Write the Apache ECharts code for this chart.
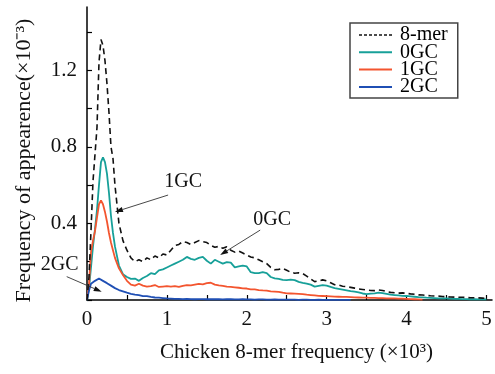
<!DOCTYPE html>
<html><head><meta charset="utf-8">
<script src="https://cdn.jsdelivr.net/npm/echarts@6/dist/echarts.min.js"></script>
<style>html,body{margin:0;padding:0;background:#fff}#c{width:495px;height:374px}</style>
</head><body><div id="c"></div>
<script>
// x values (×10^3)
var xs = [0,0.025,0.05,0.075,0.1,0.125,0.15,0.175,0.2,0.225,0.25,0.275,0.3,0.325,0.35,
0.4,0.45,0.5,0.55,0.6,0.65,0.7,0.75,0.8,0.85,0.9,0.95,1.0,
1.05,1.1,1.15,1.2,1.25,1.3,1.35,1.4,1.45,1.5,
1.55,1.6,1.65,1.7,1.75,1.8,1.85,1.9,1.95,2.0,
2.05,2.1,2.15,2.2,2.25,2.3,2.35,2.4,2.45,2.5,
2.55,2.6,2.65,2.7,2.75,2.8,2.85,2.9,2.95,3.0,
3.05,3.1,3.15,3.2,3.25,3.3,3.35,3.4,3.45,3.5,
3.55,3.6,3.65,3.7,3.75,3.8,3.85,3.9,3.95,4.0,
4.05,4.1,4.15,4.2,4.25,4.3,4.35,4.4,4.45,4.5,
4.55,4.6,4.65,4.7,4.75,4.8,4.85,4.9,4.95,5.0];

var mer8 = [0,0.12,0.36,0.62,0.76,0.90,1.24,1.36,1.33,1.25,1.13,0.98,0.80,0.74,0.60,
0.40,0.31,0.26,0.22,0.20,0.21,0.20,0.22,0.21,0.23,0.22,0.24,0.235,
0.26,0.285,0.29,0.305,0.30,0.29,0.30,0.31,0.305,0.30,
0.285,0.275,0.28,0.27,0.278,0.26,0.25,0.255,0.245,0.235,
0.225,0.22,0.21,0.20,0.19,0.17,0.158,0.16,0.165,0.155,
0.145,0.14,0.142,0.138,0.125,0.11,0.096,0.10,0.105,0.10,
0.09,0.08,0.078,0.072,0.07,0.066,0.062,0.058,0.055,0.052,
0.05,0.049,0.052,0.05,0.044,0.04,0.038,0.036,0.037,0.035,
0.032,0.03,0.027,0.026,0.024,0.022,0.021,0.02,0.018,0.017,
0.016,0.015,0.014,0.014,0.013,0.012,0.012,0.011,0.01,0.009];

var gc0 = [0,0.06,0.17,0.28,0.37,0.47,0.60,0.72,0.745,0.72,0.66,0.56,0.44,0.35,0.28,
0.18,0.135,0.12,0.11,0.112,0.10,0.115,0.125,0.14,0.135,0.155,0.16,0.17,
0.18,0.19,0.20,0.21,0.225,0.215,0.21,0.22,0.225,0.205,
0.19,0.21,0.20,0.19,0.198,0.195,0.17,0.175,0.18,0.175,
0.145,0.14,0.14,0.145,0.14,0.12,0.113,0.11,0.105,0.104,
0.106,0.104,0.095,0.09,0.086,0.08,0.07,0.074,0.078,0.075,
0.068,0.062,0.058,0.054,0.05,0.046,0.044,0.04,0.034,0.031,
0.033,0.035,0.038,0.036,0.032,0.028,0.026,0.024,0.022,0.021,
0.019,0.017,0.015,0.014,0.012,0.011,0.01,0.009,0.009,0.008,
0.007,0.006,0.006,0.005,0.005,0.004,0.004,0.003,0.003,0.003];

var gc1 = [0,0.08,0.25,0.31,0.36,0.43,0.50,0.52,0.50,0.46,0.41,0.35,0.30,0.26,0.22,
0.165,0.13,0.10,0.08,0.075,0.085,0.075,0.07,0.072,0.078,0.068,0.07,0.072,
0.07,0.072,0.068,0.074,0.078,0.076,0.08,0.084,0.082,0.088,
0.09,0.08,0.076,0.074,0.07,0.068,0.066,0.064,0.061,0.06,
0.056,0.055,0.052,0.05,0.049,0.045,0.044,0.042,0.038,0.035,
0.034,0.033,0.032,0.031,0.028,0.026,0.024,0.022,0.021,0.02,
0.019,0.018,0.017,0.016,0.016,0.015,0.014,0.013,0.012,0.012,
0.011,0.011,0.01,0.01,0.009,0.008,0.008,0.007,0.007,0.006,
0.005,0.004,0.003,0.002,null,null,null,null,null,null,
null,null,null,null,null,null,null,null,null,null];

var gc2 = [0,0.05,0.085,0.095,0.10,0.105,0.112,0.11,0.10,0.095,0.088,0.082,0.075,0.068,0.062,
0.052,0.045,0.038,0.032,0.028,0.025,0.02,0.02,0.016,0.013,0.012,0.01,0.008,
0.007,0.006,0.006,0.005,0.006,0.005,0.004,0.005,0.005,0.004,
0.004,0.005,0.004,0.003,0.004,0.004,0.003,0.003,0.004,0.003,
0.003,0.002,0.003,0.003,0.002,0.002,0.003,0.002,0.002,0.002,
0.002,0.002,0.001,0.002,0.002,0.001,0.001,0.002,0.001,0.001,
0.001,0.001,0.001,0.001,0.001,0.001,null,null,null,null,
null,null,null,null,null,null,null,null,null,null,
null,null,null,null,null,null,null,null,null,null,
null,null,null,null,null,null,null,null,null,null];

var seriesNames = ['8-mer','0GC','1GC','2GC'];
var xTickValues = [0,0.5,1,1.5,2,2.5,3,3.5,4,4.5,5];
var xLabelValues = [0,1,2,3,4,5];
var yTickValues = [0,0.2,0.4,0.6,0.8,1.0,1.2,1.4];
var yLabelValues = [0.4,0.8,1.2];
// annotations: label, arrow tip and tail in data coords
var annLabels = ['1GC','0GC','2GC'];
var annTips = [[0.35,0.46],[1.667,0.235],[0.184,0.043]];
var annTails = [[1.015,0.548],[2.168,0.365],[-0.254,0.122]];

function pairs(ys){ return xs.map(function(x,i){ return [x, ys[i] === undefined ? null : ys[i]]; }); }

var FONT = '"Liberation Serif","Times New Roman",serif';
var chart = echarts.init(document.getElementById('c'), null, {renderer:'canvas'});
var colors = ['#111111','#17a099','#f3552f','#1f4fb4'];
var lineStyles = [
  {color:colors[0], width:1.6, type:[6,4]},
  {color:colors[1], width:1.8},
  {color:colors[2], width:1.8},
  {color:colors[3], width:1.8}
];
var dataSets = [mer8, gc0, gc1, gc2];

chart.setOption({
  animation:false,
  backgroundColor:'#fff',
  grid:{left:87,right:3,top:7,bottom:74},
  legend:{
    orient:'vertical', left:350, top:23,
    backgroundColor:'#fff', borderColor:'#444', borderWidth:1.5,
    padding:[2,10,1,8], itemGap:-2.7, itemWidth:33, itemHeight:2,
    itemStyle:{opacity:0},
    textStyle:{fontFamily:FONT, fontSize:20, color:'#000', lineHeight:17, padding:[0,0,0,3]},
    data:[
      {name:seriesNames[0], lineStyle:{type:[3,2], width:1.5}},
      {name:seriesNames[1]},
      {name:seriesNames[2]},
      {name:seriesNames[3]}
    ]
  },
  xAxis:{
    type:'value', min:0, max:5.07,
    axisLine:{show:true, onZero:false, lineStyle:{color:'#000', width:1.5}},
    axisTick:{show:true, inside:true, length:5, customValues:xTickValues, lineStyle:{color:'#000', width:1.2}},
    axisLabel:{customValues:xLabelValues, margin:9, fontFamily:FONT, fontSize:21, color:'#111'},
    splitLine:{show:false},
    name:'Chicken 8-mer frequency (×10³)', nameLocation:'middle', nameGap:42,
    nameTextStyle:{fontFamily:FONT, fontSize:21, color:'#111', padding:[0,0,0,14]}
  },
  yAxis:{
    type:'value', min:0, max:1.53,
    axisLine:{show:true, lineStyle:{color:'#000', width:1.5}},
    axisTick:{show:true, inside:true, length:5, customValues:yTickValues, lineStyle:{color:'#000', width:1.2}},
    axisLabel:{customValues:yLabelValues, margin:10, fontFamily:FONT, fontSize:21, color:'#111',
      formatter:function(v){ return v.toFixed(1); }},
    splitLine:{show:false},
    name:'Frequency of appearence(×10⁻³)', nameLocation:'middle', nameGap:52,
    nameTextStyle:{fontFamily:FONT, fontSize:22, color:'#111', padding:[0,14,0,0]}
  },
  series: seriesNames.map(function(n,i){
    return {
      name:n, type:'line', data:pairs(dataSets[i]), showSymbol:false, symbol:'none',
      lineStyle:lineStyles[i], itemStyle:{color:colors[i]}, z: i===0 ? 5 : 3,
      connectNulls:false, silent:true
    };
  })
});

// annotations drawn via axis conversion
var g = [];
var textOffsets = [[15,-13],[12,-10],[-7,-12]];
for (var k=0;k<annLabels.length;k++){
  var tip = chart.convertToPixel({gridIndex:0}, annTips[k]);
  var tail = chart.convertToPixel({gridIndex:0}, annTails[k]);
  var dx = tip[0]-tail[0], dy = tip[1]-tail[1];
  var L = Math.sqrt(dx*dx+dy*dy), ux = dx/L, uy = dy/L;
  var al = 8, aw = 2.6;
  var bx = tip[0]-ux*al, by = tip[1]-uy*al;
  g.push({type:'line', shape:{x1:tail[0],y1:tail[1],x2:bx,y2:by}, style:{stroke:'#333', lineWidth:0.9}, z:20});
  g.push({type:'polygon', shape:{points:[[tip[0],tip[1]],[bx-uy*aw,by+ux*aw],[bx+uy*aw,by-ux*aw]]}, style:{fill:'#111'}, z:20});
  g.push({type:'text', x:tail[0]+textOffsets[k][0], y:tail[1]+textOffsets[k][1], z:20,
    style:{text:annLabels[k], font:'20px '+FONT, fill:'#111', align:'center', verticalAlign:'middle'}});
}
chart.setOption({graphic:g});
</script>
</body></html>
